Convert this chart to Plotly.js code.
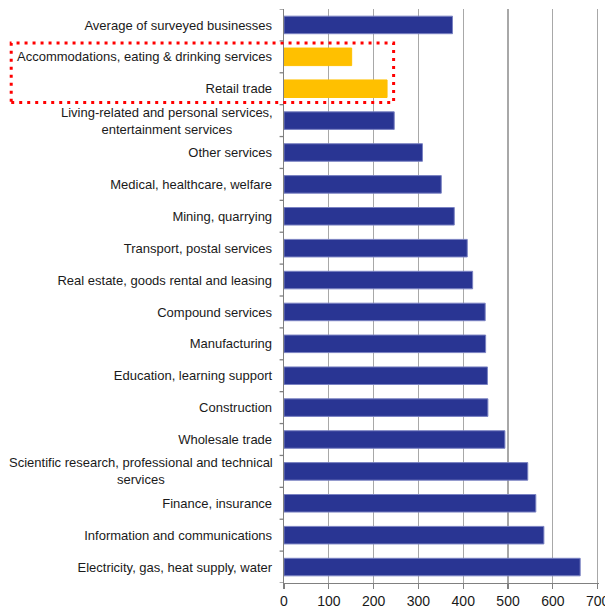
<!DOCTYPE html>
<html><head><meta charset="utf-8">
<script src="https://cdn.plot.ly/plotly-3.0.1.min.js"></script>
<style>html,body{margin:0;padding:0;background:#fff}</style>
</head><body><div id="chart" style="width:605px;height:608px"></div>
<script>
// categories top to bottom
var categories = [
  "Average of surveyed businesses",
  "Accommodations, eating & drinking services",
  "Retail trade",
  "Living-related and personal services,<br>entertainment services",
  "Other services",
  "Medical, healthcare, welfare",
  "Mining, quarrying",
  "Transport, postal services",
  "Real estate, goods rental and leasing",
  "Compound services",
  "Manufacturing",
  "Education, learning support",
  "Construction",
  "Wholesale trade",
  "Scientific research, professional and technical<br>services",
  "Finance, insurance",
  "Information and communications",
  "Electricity, gas, heat supply, water"
];
var values = [376, 151, 230, 246, 309, 351, 380, 409, 421, 449, 450, 454, 455, 493, 544, 562, 580, 661];
var highlighted = [false, true, true, false, false, false, false, false, false, false, false, false, false, false, false, false, false, false];
var xTicks = [0, 100, 200, 300, 400, 500, 600, 700];

var blue = '#293593', yellow = '#FFC000';
var colors = highlighted.map(function(h){return h ? yellow : blue;});
var lineColors = highlighted.map(function(h){return h ? yellow : '#7a82c2';});
var idx = categories.map(function(_, i){return i;});
var multi = categories.map(function(c){return c.indexOf('<br>') >= 0;});
var tickText = categories.map(function(c, i){return multi[i] ? '' : c;});

var annotations = [];
categories.forEach(function(c, i){
  if (multi[i]) annotations.push({
    xref: 'paper', yref: 'y', x: 0, y: i, xanchor: 'right', yanchor: 'middle',
    xshift: -9, text: c, showarrow: false, align: 'center',
    font: {family: 'Liberation Sans, Arial, sans-serif', size: 13, color: '#1a1a1a'}
  });
});

var trace = {
  type: 'bar', orientation: 'h', y: idx, x: values,
  marker: {color: colors, line: {color: lineColors, width: 1}},
  hoverinfo: 'x+text', text: categories, textposition: 'none'
};

var layout = {
  width: 605, height: 608,
  margin: {l: 284, r: 6, t: 9, b: 25},
  paper_bgcolor: '#fff', plot_bgcolor: '#fff',
  showlegend: false, bargap: 0.45,
  font: {family: 'Liberation Sans, Arial, sans-serif', size: 13, color: '#1a1a1a'},
  xaxis: {
    range: [0, 703], tickvals: xTicks, ticktext: xTicks.map(String),
    showgrid: true, gridcolor: '#a8a8a8', gridwidth: 1.3,
    showline: true, linecolor: '#808080', linewidth: 1.3,
    ticks: 'outside', ticklen: 5, tickcolor: '#808080', tickwidth: 1.3,
    ticklabeloverflow: 'allow',
    zeroline: false, tickfont: {size: 14, color: '#1a1a1a'}, fixedrange: true
  },
  yaxis: {
    type: 'linear', range: [17.5, -0.5], tickvals: idx, ticktext: tickText,
    showgrid: false, zeroline: false,
    showline: true, linecolor: '#808080', linewidth: 1.3,
    ticks: '', ticklabelstandoff: 8,
    tickfont: {size: 13, color: '#1a1a1a'}, fixedrange: true
  },
  shapes: [
    {type: 'rect', xref: 'paper', yref: 'paper', x0: -0.866, x1: 0.348, y0: 0.837, y1: 0.9407,
     line: {color: '#ff0000', width: 3, dash: '3px,5px'}, fillcolor: 'rgba(0,0,0,0)'}
  ],
  annotations: annotations
};
// y boundary tick marks
idx.concat([idx.length]).forEach(function(i){
  layout.shapes.push({type: 'line', xref: 'paper', yref: 'y', x0: -0.014, x1: 0, y0: i - 0.5, y1: i - 0.5,
    line: {color: '#808080', width: 1.3}});
});
Plotly.newPlot('chart', [trace], layout, {displayModeBar: false, staticPlot: true});
</script></body></html>
